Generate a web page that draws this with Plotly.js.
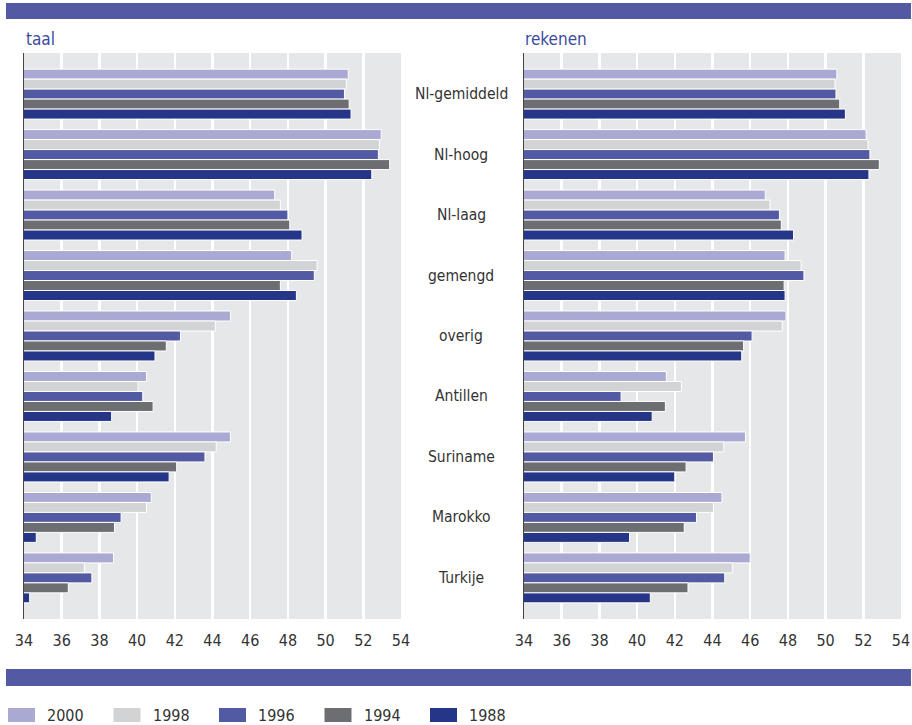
<!DOCTYPE html>
<html>
<head>
<meta charset="utf-8">
<script src="https://cdn.plot.ly/plotly-3.0.1.min.js"></script>
<style>
html,body{margin:0;padding:0;background:#fff;}
#chart{width:912px;height:725px;}
</style>
</head>
<body>
<div id="chart"></div>
<script>
// ---- data ----
const categories = ['Nl-gemiddeld','Nl-hoog','Nl-laag','gemengd','overig','Antillen','Suriname','Marokko','Turkije'];
const years = ['2000','1998','1996','1994','1988'];
const colors = ['#a9a9d3','#d2d3d5','#525aa3','#6d6e71','#253689'];

// taal (language)
const taal2000 = [51.2, 52.95, 47.3, 48.2, 44.95, 40.5, 44.95, 40.75, 38.75];
const taal1998 = [51.1, 52.85, 47.6, 49.55, 44.15, 40.05, 44.2, 40.5, 37.2];
const taal1996 = [51.0, 52.8, 48.0, 49.4, 42.3, 40.3, 43.6, 39.15, 37.6];
const taal1994 = [51.25, 53.4, 48.1, 47.6, 41.55, 40.85, 42.1, 38.8, 36.35];
const taal1988 = [51.35, 52.45, 48.75, 48.45, 40.95, 38.65, 41.7, 34.65, 34.3];

// rekenen (arithmetic)
const rek2000 = [50.6, 52.15, 46.8, 47.85, 47.9, 41.55, 45.75, 44.5, 46.0];
const rek1998 = [50.5, 52.25, 47.05, 48.7, 47.7, 42.35, 44.6, 44.05, 45.05];
const rek1996 = [50.55, 52.35, 47.55, 48.85, 46.1, 39.15, 44.05, 43.15, 44.65];
const rek1994 = [50.75, 52.85, 47.65, 47.8, 45.65, 41.5, 42.6, 42.5, 42.7];
const rek1988 = [51.05, 52.3, 48.3, 47.85, 45.55, 40.8, 42.0, 39.6, 40.7];

const tickVals = [34,36,38,40,42,44,46,48,50,52,54];

// ---- build ----
const FONT = '"Liberation Sans Narrow", "Arial Narrow", "DejaVu Sans Condensed", sans-serif';
const taalSeries = [taal2000, taal1998, taal1996, taal1994, taal1988];
const rekSeries = [rek2000, rek1998, rek1996, rek1994, rek1988];

const traces = [];
years.forEach((yr, i) => {
  traces.push({
    type:'bar', orientation:'h', name: yr,
    x: taalSeries[i], y: categories,
    xaxis:'x', yaxis:'y',
    marker:{color: colors[i], line:{color:'#ffffff', width:1}},
    showlegend:false, hoverinfo:'x+y+name'
  });
});
years.forEach((yr, i) => {
  traces.push({
    type:'bar', orientation:'h', name: yr,
    x: rekSeries[i], y: categories,
    xaxis:'x2', yaxis:'y2',
    marker:{color: colors[i], line:{color:'#ffffff', width:1}},
    showlegend:false, hoverinfo:'x+y+name'
  });
});

const W = 912, H = 725;
const px = v => v / W;
const py = v => 1 - v / H;
const band = '#5359a3';

const xAxisCommon = {
  range:[34,54], tickvals: tickVals, ticktext: tickVals.map(String),
  showgrid:true, gridcolor:'#ffffff', gridwidth:2.5,
  zeroline:false, showline:false,
  ticks:'outside', ticklen:7, tickcolor:'rgba(0,0,0,0)',
  tickfont:{family:FONT, size:16, color:'#333333'},
  fixedrange:true
};
const yAxisCommon = {
  type:'category', range:[8.68,-0.68],
  showticklabels:false, showgrid:false, zeroline:false,
  showline:true, linecolor:'#444444', linewidth:1.5,
  domain:[py(619), py(53)], fixedrange:true
};

const shapes = [
  {type:'rect', xref:'paper', yref:'paper', x0:px(6), x1:px(911), y0:py(19), y1:py(3), fillcolor:band, line:{width:0}, layer:'above'},
  {type:'rect', xref:'paper', yref:'paper', x0:px(6), x1:px(911), y0:py(686), y1:py(669), fillcolor:band, line:{width:0}, layer:'above'}
];
const annotations = [
  {xref:'paper', yref:'paper', x:px(24), y:py(39), xanchor:'left', yanchor:'middle', text:'taal', showarrow:false,
   font:{family:FONT, size:17, color:'#3b4a9e'}},
  {xref:'paper', yref:'paper', x:px(523), y:py(39), xanchor:'left', yanchor:'middle', text:'rekenen', showarrow:false,
   font:{family:FONT, size:17, color:'#3b4a9e'}}
];
categories.forEach(c => {
  annotations.push({xref:'paper', yref:'y2', x:px(461), y:c, xanchor:'center', yanchor:'middle',
    text:c, showarrow:false, font:{family:FONT, size:15.5, color:'#333333'}});
});
// legend (drawn from years / colors)
years.forEach((yr, i) => {
  const x0 = 8 + i * 105.5;
  shapes.push({type:'rect', xref:'paper', yref:'paper', x0:px(x0), x1:px(x0+27), y0:py(722), y1:py(708),
    fillcolor:colors[i], line:{width:0}});
  annotations.push({xref:'paper', yref:'paper', x:px(x0+37), y:py(715), xanchor:'left', yanchor:'middle',
    text:yr, showarrow:false, font:{family:FONT, size:16, color:'#333333'}});
});

const layout = {
  width:W, height:H,
  margin:{l:0, r:0, t:0, b:0},
  paper_bgcolor:'#ffffff', plot_bgcolor:'#e6e7e8',
  barmode:'group', bargap:0.174, bargroupgap:0,
  showlegend:false,
  xaxis: Object.assign({}, xAxisCommon, {domain:[px(24), px(401)], anchor:'y'}),
  yaxis: Object.assign({}, yAxisCommon, {anchor:'x'}),
  xaxis2: Object.assign({}, xAxisCommon, {domain:[px(524), px(901)], anchor:'y2'}),
  yaxis2: Object.assign({}, yAxisCommon, {anchor:'x2'}),
  shapes: shapes,
  annotations: annotations,
  font:{family:FONT, color:'#333333'}
};

Plotly.newPlot('chart', traces, layout, {displayModeBar:false, staticPlot:true});
</script>
</body>
</html>
